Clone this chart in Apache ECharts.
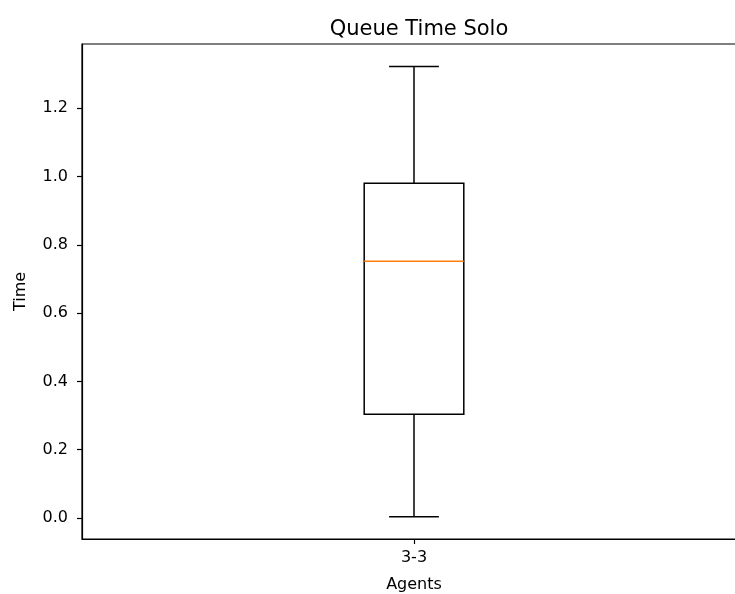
<!DOCTYPE html>
<html>
<head>
<meta charset="utf-8">
<script src="https://cdn.jsdelivr.net/npm/echarts@6/dist/echarts.min.js"></script>
<style>html,body{margin:0;padding:0;background:#fff}#c{width:735px;height:594px}</style>
</head>
<body>
<div id="c"></div>
<script>
const categories = ['3-3'];
// [whiskerLow, Q1, median, Q3, whiskerHigh]
const boxStats = [[0.004, 0.304, 0.752, 0.980, 1.322]];
const yTicks = [0.0, 0.2, 0.4, 0.6, 0.8, 1.0, 1.2];
const titleText = 'Queue Time Solo';
const xName = 'Agents';
const yName = 'Time';

const FONT = 'DejaVu Sans';
const chart = echarts.init(document.getElementById('c'), null, {renderer: 'canvas'});

const data = boxStats.map((s, i) => [i].concat(s));

chart.setOption({
  animation: false,
  backgroundColor: '#fff',
  title: {
    text: titleText,
    left: 414, top: 14,
    textAlign: 'center',
    textStyle: {fontFamily: FONT, fontSize: 21, fontWeight: 'normal', color: '#000'}
  },
  grid: {left: 82, top: 44, width: 664, height: 495, outerBoundsMode: 'none', containLabel: false,
    show: true, borderColor: '#000', borderWidth: 1.2, backgroundColor: 'transparent'},
  xAxis: {
    type: 'category',
    data: categories,
    name: xName,
    nameLocation: 'middle',
    nameGap: 38,
    nameTextStyle: {fontFamily: FONT, fontSize: 16, color: '#000'},
    axisLine: {show: true, onZero: false, lineStyle: {color: '#000', width: 1.2}},
    axisTick: {show: true, alignWithLabel: true, length: 5, lineStyle: {color: '#000', width: 1.2}},
    axisLabel: {fontFamily: FONT, fontSize: 16, color: '#000', margin: 11},
    splitLine: {show: false}
  },
  yAxis: {
    type: 'value',
    min: -0.0615,
    max: 1.388,
    name: yName,
    nameLocation: 'middle',
    nameGap: 53,
    nameRotate: 90,
    nameTextStyle: {fontFamily: FONT, fontSize: 16, color: '#000'},
    axisLine: {show: true, lineStyle: {color: '#000', width: 1.2}},
    axisTick: {show: true, length: 5, customValues: yTicks, lineStyle: {color: '#000', width: 1.2}},
    axisLabel: {fontFamily: FONT, fontSize: 16, color: '#000', margin: 14, customValues: yTicks,
      formatter: v => Number(v).toFixed(1)},
    splitLine: {show: false}
  },
  series: [{
    type: 'custom',
    data: data,
    encode: {x: 0, y: [1, 2, 3, 4, 5]},
    renderItem: function (params, api) {
      const xi = api.value(0);
      const band = api.size([1, 0])[0];
      const bw = band * 0.15;
      const cw = bw * 0.5;
      const lo = api.coord([xi, api.value(1)]);
      const q1 = api.coord([xi, api.value(2)]);
      const med = api.coord([xi, api.value(3)]);
      const q3 = api.coord([xi, api.value(4)]);
      const hi = api.coord([xi, api.value(5)]);
      const cx = lo[0];
      const black = {stroke: '#000', lineWidth: 1.5, fill: null};
      return {
        type: 'group',
        children: [
          {type: 'rect', shape: {x: cx - bw / 2, y: q3[1], width: bw, height: q1[1] - q3[1]}, style: {stroke: '#000', lineWidth: 1.5, fill: 'none'}},
          {type: 'line', shape: {x1: cx, y1: q1[1], x2: cx, y2: lo[1]}, style: black},
          {type: 'line', shape: {x1: cx, y1: q3[1], x2: cx, y2: hi[1]}, style: black},
          {type: 'line', shape: {x1: cx - cw / 2, y1: lo[1], x2: cx + cw / 2, y2: lo[1]}, style: black},
          {type: 'line', shape: {x1: cx - cw / 2, y1: hi[1], x2: cx + cw / 2, y2: hi[1]}, style: black},
          {type: 'line', shape: {x1: cx - bw / 2, y1: med[1], x2: cx + bw / 2, y2: med[1]}, style: {stroke: '#ff7f0e', lineWidth: 1.5}}
        ]
      };
    }
  }]
});
</script>
</body>
</html>
